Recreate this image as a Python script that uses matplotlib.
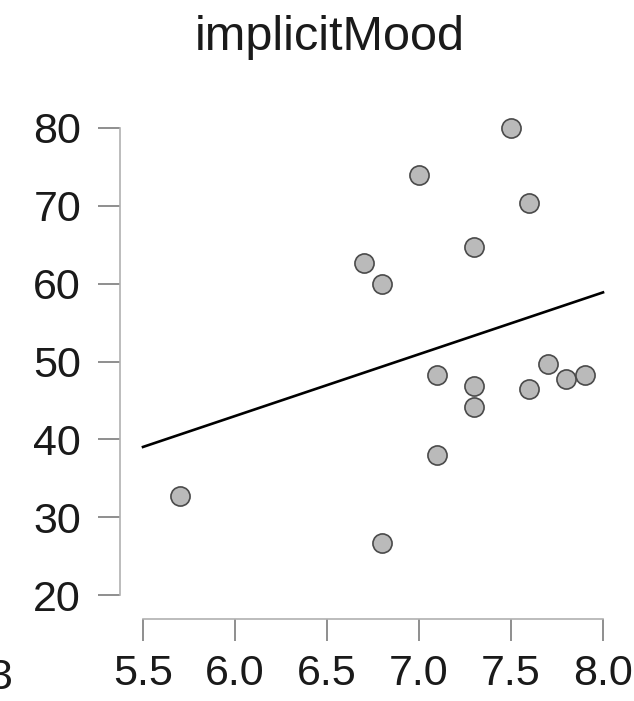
import numpy as np
import matplotlib
matplotlib.use("Agg")
import matplotlib.pyplot as plt

# data
x_vals = [5.7, 6.7, 6.8, 6.8, 7.0, 7.1, 7.1, 7.3, 7.3, 7.3, 7.5, 7.6, 7.6, 7.7, 7.8, 7.9]
y_vals = [32.7, 62.6, 60.0, 26.7, 74.0, 48.3, 38.0, 64.7, 46.8, 44.1, 80.0, 70.3, 46.5, 49.7, 47.7, 48.3]
x_ticks = [5.5, 6.0, 6.5, 7.0, 7.5, 8.0]
y_ticks = [20, 30, 40, 50, 60, 70, 80]
title = "implicitMood"

plt.rcParams['font.family'] = ['Liberation Sans', 'DejaVu Sans']

W, H = 634, 701
fig = plt.figure(figsize=(W / 100, H / 100), dpi=100)
# axes box in pixels: left 120, right 634, top 110, bottom 619
ax = fig.add_axes([120 / W, (H - 619) / H, (W - 120) / W, (619 - 110) / H])

ax.set_xlim(5.5 - 23 / 184, 5.5 - 23 / 184 + (W - 120) / 184)
ax.set_ylim(20 - 24 / 7.8, 80 + 18 / 7.8)

# regression line
k, b = np.polyfit(x_vals, y_vals, 1)
xl = np.array([x_ticks[0], x_ticks[-1]])
ax.plot(xl, k * xl + b, color='black', lw=1.9, zorder=2)

ax.scatter(x_vals, y_vals, s=190, facecolor='#bababa', edgecolor='#4a4a4a',
           linewidths=1.2, zorder=3)

for s in ['top', 'right']:
    ax.spines[s].set_visible(False)
ax.spines['left'].set_bounds(20, 80)
ax.spines['bottom'].set_bounds(5.5, 8.0)
for s in ['left', 'bottom']:
    ax.spines[s].set_color('#b0b0b0')
    ax.spines[s].set_linewidth(1.2)

ax.set_xticks(x_ticks)
ax.set_xticklabels([f"{v:.1f}" for v in x_ticks])
ax.set_yticks(y_ticks)
ax.tick_params(axis='both', length=16, width=1.1, color='#707070',
               labelsize=31, labelcolor='#1a1a1a')
ax.tick_params(axis='y', pad=12)
ax.tick_params(axis='x', pad=9)

fig.text(330 / W, 1 - 50 / H, title, ha='center', va='baseline', fontsize=35,
         color='#1a1a1a')
# clipped label of the neighbouring panel
fig.text(12 / W, 1 - 689 / H, "3", ha='right', va='baseline', fontsize=31,
         color='#1a1a1a')

fig.savefig("out.png", dpi=100)
